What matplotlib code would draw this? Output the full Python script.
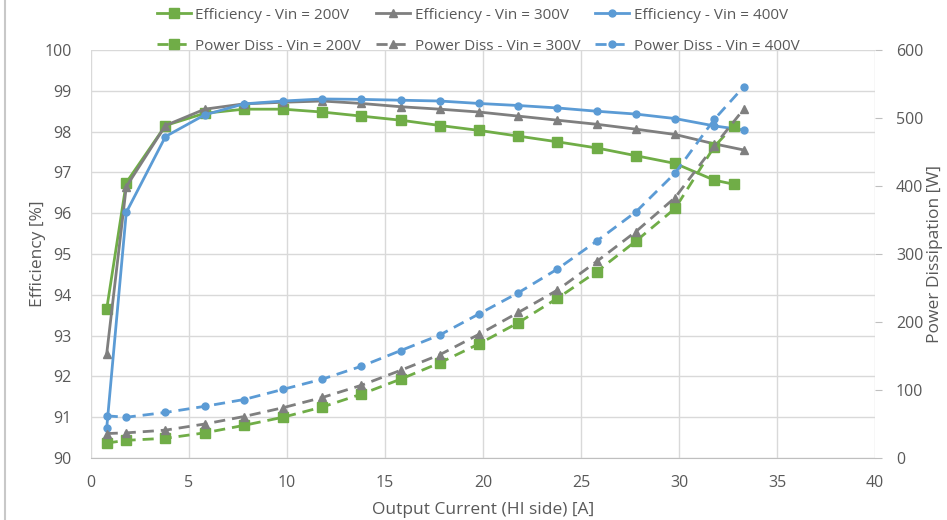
import numpy as np
import matplotlib.pyplot as plt
from matplotlib.lines import Line2D

plt.rcParams['font.family'] = ['Open Sans', 'DejaVu Sans']

# output current (HI side) [A]
current_200 = [0.8, 1.8, 3.8, 5.8, 7.8, 9.8, 11.8, 13.8, 15.8, 17.8, 19.8,
               21.8, 23.8, 25.8, 27.8, 29.8, 31.8, 32.8]
current_300 = [0.8, 1.8, 3.8, 5.8, 7.8, 9.8, 11.8, 13.8, 15.8, 17.8, 19.8,
               21.8, 23.8, 25.8, 27.8, 29.8, 31.8, 33.3]
current_400 = current_300

# efficiency [%]
eff_200 = [93.65, 96.75, 98.15, 98.45, 98.55, 98.55, 98.48, 98.38, 98.28, 98.15,
           98.03, 97.89, 97.75, 97.6, 97.41, 97.22, 96.81, 96.71]
eff_300 = [92.55, 96.65, 98.15, 98.55, 98.68, 98.72, 98.75, 98.69, 98.61, 98.55,
           98.48, 98.38, 98.28, 98.18, 98.06, 97.93, 97.7, 97.55]
eff_400 = [90.73, 96.02, 97.88, 98.41, 98.68, 98.75, 98.8, 98.79, 98.77, 98.75,
           98.69, 98.64, 98.58, 98.5, 98.43, 98.32, 98.14, 98.04]

# power dissipation [W]
pd_200 = [22, 26, 29, 37, 48, 60, 75, 94, 116, 140, 168, 199, 235, 274, 319,
          367, 458, 489]
pd_300 = [36, 37, 41, 50, 61, 74, 89, 107, 129, 152, 182, 214, 247, 289, 333,
          383, 459, 513]
pd_400 = [62, 60, 67, 76, 86, 101, 116, 135, 158, 181, 212, 243, 278, 319, 362,
          419, 498, 546]

green = '#70ad47'
grey = '#7f7f7f'
blue = '#5b9bd5'
txt = '#595959'
grid = '#d9d9d9'

fig = plt.figure(figsize=(9.47, 5.2), dpi=100)
ax = fig.add_axes([0.0961, 0.1192, 0.8279, 0.7846])
ax2 = ax.twinx()

l1, = ax.plot(current_200, eff_200, color=green, lw=2, marker='s', ms=6.5,
              label='Efficiency - Vin = 200V')
l2, = ax.plot(current_300, eff_300, color=grey, lw=2, marker='^', ms=6,
              label='Efficiency - Vin = 300V')
l3, = ax.plot(current_400, eff_400, color=blue, lw=2, marker='o', ms=5,
              label='Efficiency - Vin = 400V')

l4, = ax2.plot(current_200, pd_200, color=green, lw=2, ls=(0, (4, 2.5)), marker='s',
               ms=6.5, label='Power Diss - Vin = 200V')
l5, = ax2.plot(current_300, pd_300, color=grey, lw=2, ls=(0, (4, 2.5)), marker='^',
               ms=6, label='Power Diss - Vin = 300V')
l6, = ax2.plot(current_400, pd_400, color=blue, lw=2, ls=(0, (4, 2.5)), marker='o',
               ms=5, label='Power Diss - Vin = 400V')

ax.set_xlim(0, 40)
ax.set_ylim(90, 100)
ax2.set_ylim(0, 600)
ax.set_xticks(np.arange(0, 41, 5))
ax.set_yticks(np.arange(90, 101, 1))
ax2.set_yticks(np.arange(0, 601, 100))

ax.grid(True, color=grid, lw=1)
ax.set_axisbelow(True)

for a in (ax, ax2):
    for s in a.spines.values():
        s.set_visible(False)
ax.spines['bottom'].set_visible(True)
ax.spines['bottom'].set_color('#bfbfbf')

ax.tick_params(axis='x', length=0, pad=12, labelsize=11.5, labelcolor=txt)
ax.tick_params(axis='y', length=0, pad=14, labelsize=11.5, labelcolor=txt)
ax2.tick_params(axis='y', length=5, color='#bfbfbf', pad=10, labelsize=11.5,
                labelcolor=txt)

ax.set_xlabel('Output Current (HI side) [A]', fontsize=12.5, color=txt, labelpad=8)
ax.set_ylabel('Efficiency [%]', fontsize=12.5, color=txt, labelpad=-1)
ax2.set_ylabel('Power Dissipation [W]', fontsize=12.5, color=txt, labelpad=3)

fig.legend(handles=[l1, l4, l2, l5, l3, l6], ncol=3, loc='upper center',
           bbox_to_anchor=(0.505, 1.012), frameon=False, fontsize=11,
           labelcolor=txt, handlelength=2.2, handletextpad=0.3,
           columnspacing=1.0, labelspacing=1.05)

# frame line of the original screenshot
fig.add_artist(Line2D([0.005, 0.005], [0, 1], color='#c8c8c8', lw=1.5))

fig.savefig('out.png', dpi=100)
